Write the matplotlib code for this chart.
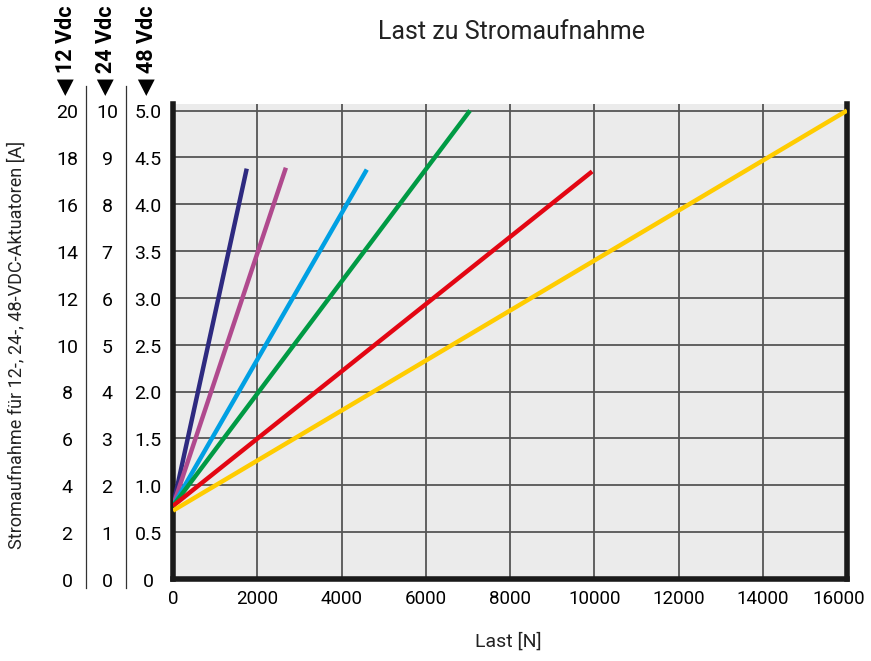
import numpy as np
import matplotlib.pyplot as plt
import matplotlib.transforms as mtrans
from matplotlib.lines import Line2D
from matplotlib import font_manager

# pick a narrow font if one is around
names = {f.name for f in font_manager.fontManager.ttflist}
fam = 'Liberation Sans Narrow' if 'Liberation Sans Narrow' in names else 'Roboto'
plt.rcParams['font.family'] = [fam, 'DejaVu Sans']

# data
last_start = [0, 0, 0, 0, 0, 0]
last_end = [1750, 2680, 4600, 7050, 9950, 16000]
strom_start = [0.78, 0.78, 0.78, 0.78, 0.78, 0.73]
strom_end = [4.38, 4.39, 4.37, 5.0, 4.35, 5.0]
colors = ['#2e2a80', '#b04a8e', '#00a0e3', '#009a44', '#e30613', '#ffcc00']

x_ticks = [0, 2000, 4000, 6000, 8000, 10000, 12000, 14000, 16000]
y_ticks = [0, 0.5, 1.0, 1.5, 2.0, 2.5, 3.0, 3.5, 4.0, 4.5, 5.0]
labels_48 = ['0', '0.5', '1.0', '1.5', '2.0', '2.5', '3.0', '3.5', '4.0', '4.5', '5.0']
labels_24 = ['0', '1', '2', '3', '4', '5', '6', '7', '8', '9', '10']
labels_12 = ['0', '2', '4', '6', '8', '10', '12', '14', '16', '18', '20']
headers = ['◀ 12 Vdc', '◀ 24 Vdc', '◀ 48 Vdc']

W, H = 871, 661
fig = plt.figure(figsize=(W / 100, H / 100), dpi=100)
ax = fig.add_axes([173 / W, (H - 579) / H, (847 - 173) / W, (579 - 104) / H])
ax.set_facecolor('#ebebeb')

for xs, xe, ys, ye, c in zip(last_start, last_end, strom_start, strom_end, colors):
    ax.plot([xs, xe], [ys, ye], color=c, lw=3.2, solid_capstyle='butt', zorder=3)

ax.set_xlim(0, 16000)
ax.set_ylim(0, 5.07)
ax.set_xticks(x_ticks)
ax.set_xticklabels([str(v) for v in x_ticks], fontsize=13.5)
ax.set_yticks(y_ticks)
ax.set_yticklabels([])
ax.tick_params(length=0, pad=8)
ax.grid(True, color='#555555', lw=1.3)
ax.set_axisbelow(True)

# last x label sits a bit left so it stays inside the figure
last_lab = ax.get_xticklabels()[-1]
last_lab.set_transform(last_lab.get_transform() +
                       mtrans.ScaledTranslation(-6 / 72, 0, fig.dpi_scale_trans))

for s in ['left', 'bottom', 'right']:
    ax.spines[s].set_linewidth(4)
    ax.spines[s].set_color('#1a1a1a')
ax.spines['top'].set_visible(False)

# three columns of y tick labels
tr = ax.get_yaxis_transform()
for xpix, labs in zip([148, 107, 67], [labels_48, labels_24, labels_12]):
    xa = (xpix - 173) / (847 - 173)
    for y, lab in zip(y_ticks, labs):
        ax.text(xa, y - 0.03, lab, transform=tr, ha='center', va='center', fontsize=14, clip_on=False)

for xpix in [86, 126]:
    fig.add_artist(Line2D([xpix / W, xpix / W], [1 - 86 / H, 1 - 588 / H],
                          color='#333333', lw=0.9))

for xpix, txt in zip([65, 105, 146], headers):
    fig.text(xpix / W, 1 - 50 / H, txt, rotation=90, ha='center', va='center',
             fontsize=15.5, fontweight='bold')

fig.text(17 / W, 1 - 345 / H, 'Stromaufnahme für 12-, 24-, 48-VDC-Aktuatoren [A]',
         rotation=90, ha='center', va='center', fontsize=13, color='#222222')
fig.text(511 / W, 1 - 32 / H, 'Last zu Stromaufnahme', ha='center', va='center',
         fontsize=18, color='#222222')
fig.text(508 / W, 1 - 642 / H, 'Last [N]', ha='center', va='center',
         fontsize=14, color='#222222')

fig.savefig('out.png', dpi=100)
